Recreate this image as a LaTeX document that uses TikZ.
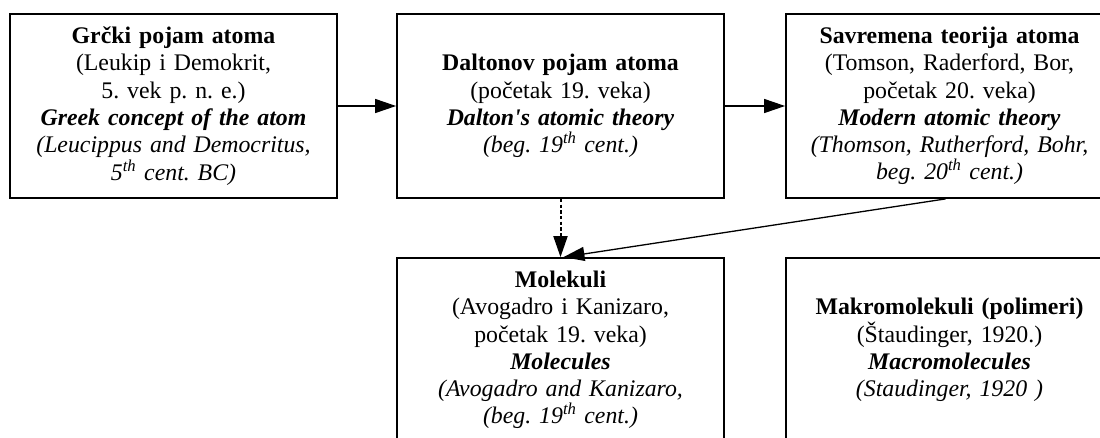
\documentclass[tikz,border=0pt]{standalone}
\usepackage{fontspec}
\setmainfont{Liberation Serif}
\usetikzlibrary{arrows.meta}
\frenchspacing
\begin{document}
\begin{tikzpicture}[x=1pt,y=1pt,
  box/.style={draw, line width=1.8pt, minimum width=327pt, minimum height=184pt,
    text width=324pt, align=center, inner sep=0pt,
    font=\frenchspacing\fontsize{23.8}{27.3}\selectfont},
  conn/.style={line width=1.3pt, -{Triangle[length=21pt,width=14pt]}}]
\useasboundingbox (0,0) rectangle (1100,-437);
\clip (0,0) rectangle (1100,-437);
\node[box] (greek) at (173.5,-106) {\textbf{Grčki pojam atoma}\\ (Leukip i Demokrit,\\ 5. vek p. n. e.)\\ \textbf{\textit{Greek concept of the atom}}\\ \textit{(Leucippus and Democritus,}\\ \textit{5\textsuperscript{th} cent. BC)}};
\node[box] (dalton) at (560.5,-106) {\textbf{Daltonov pojam atoma}\\ (početak 19. veka)\\ \textbf{\textit{Dalton\textquotesingle s atomic theory}}\\ \textit{(beg. 19\textsuperscript{th} cent.)}};
\node[box] (modern) at (949.5,-106) {\textbf{Savremena teorija atoma}\\ (Tomson, Raderford, Bor,\\ početak 20. veka)\\ \textbf{\textit{Modern atomic theory}}\\ \textit{(Thomson, Rutherford, Bohr,}\\ \textit{beg. 20\textsuperscript{th} cent.)}};
\node[box] (mol) at (560.5,-350) {\textbf{Molekuli}\\ (Avogadro i Kanizaro,\\ početak 19. veka)\\ \textbf{\textit{Molecules}}\\ \textit{(Avogadro and Kanizaro,}\\ \textit{(beg. 19\textsuperscript{th} cent.)}};
\node[box] (macro) at (949.5,-350) {\textbf{Makromolekuli (polimeri)}\\ (Štaudinger, 1920.)\\ \textbf{\textit{Macromolecules}}\\ \textit{(Staudinger, 1920 )}};
\draw[conn] (greek.east) -- (dalton.west);
\draw[conn] (dalton.east) -- (modern.west);
\draw[conn, line width=2pt, dash pattern=on 3.3pt off 2.4pt] (dalton.south) -- (mol.north);
\draw[conn] ([xshift=-4pt]modern.south) -- ([xshift=3pt]mol.north);
\end{tikzpicture}
\end{document}
